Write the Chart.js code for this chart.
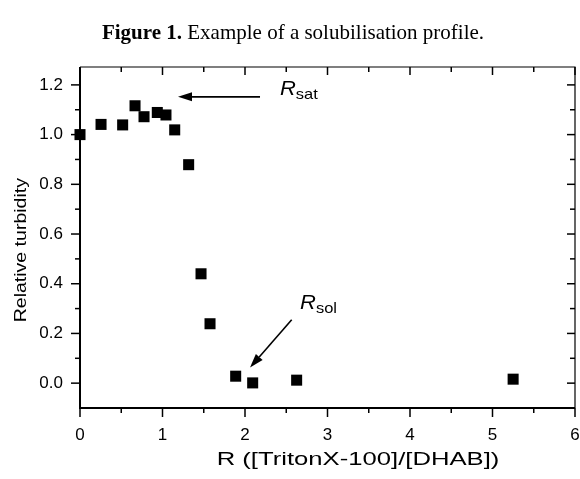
<!DOCTYPE html>
<html>
<head>
<meta charset="utf-8">
<script src="https://cdn.jsdelivr.net/npm/chart.js@4"></script>
<style>
  html, body { margin: 0; padding: 0; background: #fff; }
  #wrap { position: relative; width: 580px; height: 479px; }
  #title { position: absolute; left: 0; top: 20px; width: 586px; text-align: center;
           font: 21px "Liberation Serif", "Times New Roman", serif; color: #000; }
  canvas { position: absolute; left: 0; top: 0; }
</style>
</head>
<body>
<div id="wrap">
  <canvas id="chart" width="580" height="479"></canvas>
  <div id="title"><b>Figure 1.</b> Example of a solubilisation profile.</div>
</div>
<script>
// values
const ratioR = [0, 0.255, 0.517, 0.667, 0.776, 0.937, 1.042, 1.148, 1.317, 1.467, 1.576, 1.887, 2.093, 2.626, 5.25];
const turbidity = [1.0, 1.041, 1.039, 1.116, 1.072, 1.089, 1.079, 1.019, 0.879, 0.44, 0.239, 0.028, 0.001, 0.012, 0.016];

// axis ticks
const xTicks = [0, 1, 2, 3, 4, 5, 6];
const xMinor = [0.5, 1.5, 2.5, 3.5, 4.5, 5.5];
const yTicks = [0, 0.2, 0.4, 0.6, 0.8, 1.0, 1.2];
const yMinor = [0.1, 0.3, 0.5, 0.7, 0.9, 1.1];

// arrows + labels, in data units
const notes = [
  { main: "R", sub: "sat", at: [2.424, 1.16], tail: [2.182, 1.152], tip: [1.188, 1.152] },
  { main: "R", sub: "sol", at: [2.667, 0.30], tail: [2.566, 0.255], tip: [2.061, 0.063] },
];

const sans = "'Liberation Sans', Arial, sans-serif";

// text stretched along its direction, like the scanned figure
function wideText(ctx, txt, x, y, font, sx, align) {
  ctx.save();
  ctx.translate(x, y);
  ctx.scale(sx, 1);
  ctx.font = font;
  ctx.textAlign = align;
  ctx.textBaseline = "alphabetic";
  ctx.fillText(txt, 0, 0);
  const w = ctx.measureText(txt).width * sx;
  ctx.restore();
  return w;
}

function arrow(ctx, x0, y0, x1, y1) {
  const ang = Math.atan2(y1 - y0, x1 - x0);
  const len = 14, half = 4.5;
  const bx = x1 - len * Math.cos(ang), by = y1 - len * Math.sin(ang);
  ctx.lineWidth = 1.6;
  ctx.beginPath();
  ctx.moveTo(x0, y0);
  ctx.lineTo(bx, by);
  ctx.stroke();
  ctx.beginPath();
  ctx.moveTo(x1, y1);
  ctx.lineTo(bx + half * Math.sin(ang), by - half * Math.cos(ang));
  ctx.lineTo(bx - half * Math.sin(ang), by + half * Math.cos(ang));
  ctx.closePath();
  ctx.fill();
}

const frameAndNotes = {
  id: "frameAndNotes",
  afterDraw(chart) {
    const { ctx, chartArea: a, scales: { x, y } } = chart;
    ctx.save();
    ctx.strokeStyle = "#000";
    ctx.fillStyle = "#000";

    // frame: heavy left/bottom, light top/right
    ctx.lineWidth = 2;
    ctx.beginPath();
    ctx.moveTo(a.left, a.top);
    ctx.lineTo(a.left, a.bottom);
    ctx.lineTo(a.right, a.bottom);
    ctx.stroke();
    ctx.lineWidth = 1.2;
    ctx.beginPath();
    ctx.moveTo(a.left, a.top);
    ctx.lineTo(a.right, a.top);
    ctx.lineTo(a.right, a.bottom);
    ctx.stroke();

    // ticks: outward on left/bottom, inward on top/right
    ctx.lineWidth = 1.5;
    const seg = (x0, y0, x1, y1) => { ctx.beginPath(); ctx.moveTo(x0, y0); ctx.lineTo(x1, y1); ctx.stroke(); };
    xTicks.forEach(v => { const p = x.getPixelForValue(v); seg(p, a.bottom, p, a.bottom + 9); seg(p, a.top, p, a.top + 8); });
    xMinor.forEach(v => { const p = x.getPixelForValue(v); seg(p, a.bottom, p, a.bottom + 5); seg(p, a.top, p, a.top + 5); });
    yTicks.forEach(v => { const p = y.getPixelForValue(v); seg(a.left - 9, p, a.left, p); seg(a.right - 8, p, a.right, p); });
    yMinor.forEach(v => { const p = y.getPixelForValue(v); seg(a.left - 5, p, a.left, p); seg(a.right - 5, p, a.right, p); });

    // axis titles
    wideText(ctx, "R ([TritonX-100]/[DHAB])", x.getPixelForValue(3.37), a.bottom + 57, "19px " + sans, 1.35, "center");
    ctx.save();
    ctx.translate(26, y.getPixelForValue(0.535));
    ctx.rotate(-Math.PI / 2);
    wideText(ctx, "Relative turbidity", 0, 0, "16px " + sans, 1.22, "center");
    ctx.restore();

    // R_sat / R_sol arrows
    notes.forEach(n => {
      arrow(ctx, x.getPixelForValue(n.tail[0]), y.getPixelForValue(n.tail[1]),
                 x.getPixelForValue(n.tip[0]), y.getPixelForValue(n.tip[1]));
      const px = x.getPixelForValue(n.at[0]), py = y.getPixelForValue(n.at[1]);
      const w = wideText(ctx, n.main, px, py, "italic 20px " + sans, 1.1, "left");
      wideText(ctx, n.sub, px + w, py + 4, "15px " + sans, 1.1, "left");
    });
    ctx.restore();
  }
};

new Chart(document.getElementById("chart"), {
  type: "scatter",
  data: {
    datasets: [{
      data: ratioR.map((r, i) => ({ x: r, y: turbidity[i] })),
      pointStyle: "rect",
      pointRadius: 7.8,
      pointHoverRadius: 7.8,
      backgroundColor: "#000",
      borderWidth: 0,
      clip: false,
    }],
  },
  options: {
    responsive: false,
    animation: false,
    events: [],
    layout: { autoPadding: false, padding: { top: 67, right: 5, left: 0, bottom: 0 } },
    plugins: { legend: { display: false }, tooltip: { enabled: false } },
    scales: {
      x: {
        type: "linear",
        min: 0,
        max: 6,
        afterBuildTicks: s => { s.ticks = xTicks.map(v => ({ value: v })); },
        afterFit: s => { s.height = 71; s.paddingLeft = 0; s.paddingRight = 0; },
        grid: { display: false, drawTicks: false, tickLength: 0 },
        border: { display: false },
        ticks: { color: "#000", padding: 17, maxRotation: 0, font: { family: sans, size: 17 },
                 callback: v => String(v) },
      },
      y: {
        min: -0.1,
        max: 1.272,
        afterBuildTicks: s => { s.ticks = yTicks.map(v => ({ value: v })); },
        afterFit: s => { s.width = 80; s.paddingTop = 0; s.paddingBottom = 0; },
        grid: { display: false, drawTicks: false, tickLength: 0 },
        border: { display: false },
        ticks: { color: "#000", padding: 17, font: { family: sans, size: 17 },
                 callback: v => v.toFixed(1) },
      },
    },
  },
  plugins: [frameAndNotes],
});
</script>
</body>
</html>
